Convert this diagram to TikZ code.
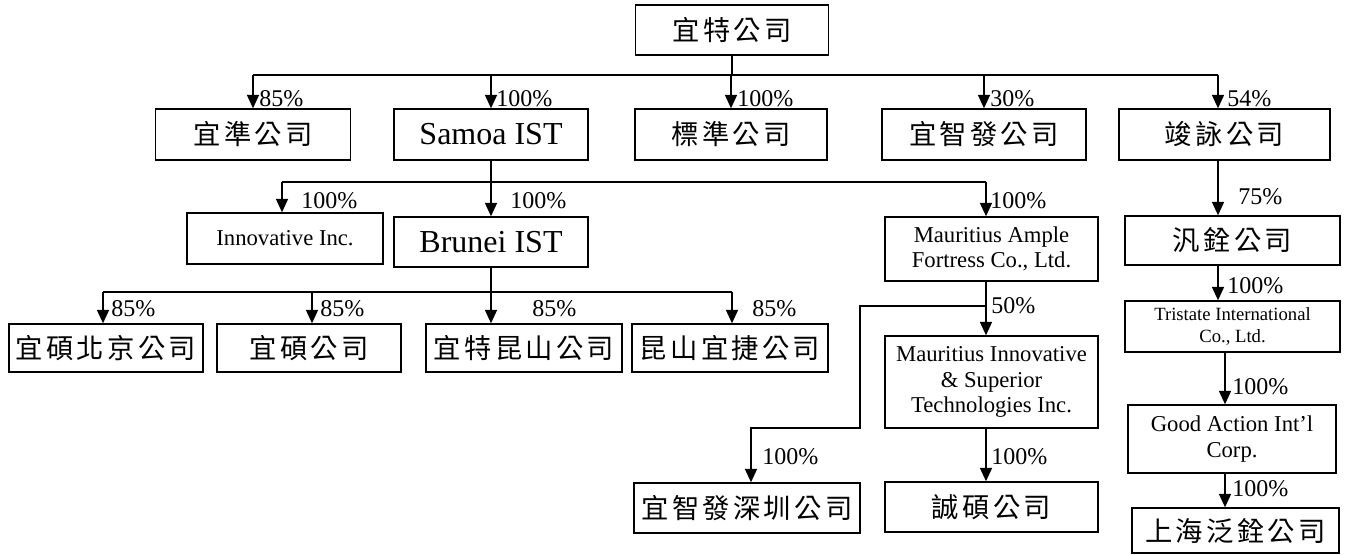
\documentclass[tikz,border=0pt]{standalone}
\usepackage{fontspec}
\setmainfont{Liberation Serif}
\newfontfamily\cjk{Noto Sans CJK TC}
\usetikzlibrary{arrows.meta,calc}
\newdimen\px \px=0.75pt
\newcommand{\kk}{\hspace{0.12em}}
\begin{document}
\begin{tikzpicture}[x=0.75pt,y=-0.75pt,
 box/.style={draw, line width=1.1pt, inner sep=0pt, align=center},
 cbox/.style={box, font=\cjk\fontsize{20.5}{24}\selectfont},
 lbox/.style={box, font=\fontsize{24}{28}\selectfont},
 sbox/.style={box, font=\fontsize{17}{19}\selectfont},
 tbox/.style={box, font=\fontsize{14}{16.5}\selectfont},
 pct/.style={anchor=west, inner sep=0pt, font=\fontsize{18}{20}\selectfont},
 arr/.style={-{Triangle[length=10pt,width=9pt]}, line width=1.1pt},
 ln/.style={line width=1.1pt}]
\useasboundingbox (0,0) rectangle (1348,555);

% level 0 / 1
\node[cbox, minimum width=193\px, minimum height=50\px] (top) at (732,30) {宜\kk 特\kk 公\kk 司};
\node[cbox, minimum width=195\px, minimum height=51\px] (zhun) at (253,134.5) {宜\kk 準\kk 公\kk 司};
\node[lbox, minimum width=194\px, minimum height=51\px] (samoa) at (491,134.5) {Samoa IST};
\node[cbox, minimum width=192\px, minimum height=51\px] (biao) at (731,134.5) {標\kk 準\kk 公\kk 司};
\node[cbox, minimum width=204\px, minimum height=51\px] (zhifa) at (984,134.5) {宜\kk 智\kk 發\kk 公\kk 司};
\node[cbox, minimum width=211\px, minimum height=51\px] (jun) at (1224.5,134.5) {竣\kk 詠\kk 公\kk 司};

% level 2
\node[sbox, minimum width=196\px, minimum height=51\px] (innov) at (285,238.5) {Innovative Inc.};
\node[lbox, minimum width=194\px, minimum height=50\px] (brunei) at (491,242) {Brunei IST};
\node[sbox, minimum width=213\px, minimum height=64\px] (maf) at (991.5,249) {Mauritius Ample\\Fortress Co., Ltd.};
\node[cbox, minimum width=215\px, minimum height=49\px] (fan) at (1232.5,240.5) {汎\kk 銓\kk 公\kk 司};

% level 3
\node[cbox, minimum width=194\px, minimum height=48\px] (bj) at (106,348) {宜\kk 碩\kk 北\kk 京\kk 公\kk 司};
\node[cbox, minimum width=184\px, minimum height=48\px] (ys) at (309,348) {宜\kk 碩\kk 公\kk 司};
\node[cbox, minimum width=196\px, minimum height=48\px] (ks) at (524,348) {宜\kk 特\kk 昆\kk 山\kk 公\kk 司};
\node[cbox, minimum width=196\px, minimum height=48\px] (ksyj) at (730,348) {昆\kk 山\kk 宜\kk 捷\kk 公\kk 司};
\node[tbox, minimum width=215\px, minimum height=51\px] (tri) at (1232.5,326.5) {Tristate International\\Co., Ltd.};

% lower
\node[sbox, minimum width=213\px, minimum height=92\px] (mis) at (991.5,382) {Mauritius Innovative\\\& Superior\\Technologies Inc.};
\node[sbox, minimum width=208\px, minimum height=68\px] (ga) at (1232,439) {Good Action Int'l\\Corp.};
\node[cbox, minimum width=226\px, minimum height=50\px] (sz) at (747,508) {宜\kk 智\kk 發\kk 深\kk 圳\kk 公\kk 司};
\node[cbox, minimum width=213\px, minimum height=50\px] (cs) at (991.5,507) {誠\kk 碩\kk 公\kk 司};
\node[cbox, minimum width=207\px, minimum height=45\px] (sh) at (1235.5,530.5) {上\kk 海\kk 泛\kk 銓\kk 公\kk 司};

% bus 1
\coordinate (b1L) at (253,75);
\coordinate (b1R) at (1218,75);
\draw[ln] (top.south) -- (top.south |- b1L);
\draw[ln] (b1L) -- (b1R);
\draw[arr] (b1L) -- (zhun.north);
\draw[arr] (samoa.north |- b1L) -- (samoa.north);
\draw[arr] (biao.north |- b1L) -- (biao.north);
\draw[arr] (zhifa.north |- b1L) -- (zhifa.north);
\draw[arr] (b1R) -- (b1R |- jun.north);

% bus 2
\coordinate (b2L) at (282,182);
\coordinate (b2R) at (986,182);
\draw[ln] (samoa.south) -- (samoa.south |- b2L);
\draw[ln] (b2L) -- (b2R);
\draw[arr] (b2L) -- (b2L |- innov.north);
\draw[arr] (brunei.north |- b2L) -- (brunei.north);
\draw[arr] (b2R) -- (b2R |- maf.north);
\draw[arr] (b1R |- jun.south) -- (b1R |- fan.north);

% bus 3
\coordinate (b3L) at (103,292);
\coordinate (b3M) at (312,292);
\coordinate (b3R) at (732,292);
\draw[ln] (brunei.south) -- (brunei.south |- b3L);
\draw[ln] (b3L) -- (b3R);
\draw[arr] (b3L) -- (b3L |- bj.north);
\draw[arr] (b3M) -- (b3M |- ys.north);
\draw[arr] (brunei.south |- b3L) -- (brunei.south |- ks.north);
\draw[arr] (b3R) -- (b3R |- ksyj.north);

% Mauritius chain
\coordinate (mj) at (986,306);
\coordinate (k1) at (860,306);
\coordinate (k2) at (860,428);
\coordinate (k3) at (751,428);
\draw[arr] (b2R |- maf.south) -- (b2R |- mis.north);
\draw[arr] (b2R |- mis.south) -- (b2R |- cs.north);
\draw[arr] (mj) -- (k1) -- (k2) -- (k3) -- (k3 |- sz.north);

% right column
\coordinate (rc) at (1225,0);
\draw[arr] (b1R |- fan.south) -- (b1R |- tri.north);
\draw[arr] (rc |- tri.south) -- (rc |- ga.north);
\draw[arr] (rc |- ga.south) -- (rc |- sh.north);

% labels
\node[pct] (p1) at (259,99) {85\%};
\node[pct] (p2) at (496,99) {100\%};
\node[pct] (p3) at (737,99) {100\%};
\node[pct] (p4) at (990,99) {30\%};
\node[pct] (p5) at (1227,99) {54\%};
\node[pct] (p6) at (301,201) {100\%};
\node[pct] (p7) at (510,201) {100\%};
\node[pct] (p8) at (990,201) {100\%};
\node[pct] (p9) at (1238,197) {75\%};
\node[pct] (p10) at (111,309) {85\%};
\node[pct] (p11) at (320,309) {85\%};
\node[pct] (p12) at (532,309) {85\%};
\node[pct] (p13) at (752,309) {85\%};
\node[pct] (p14) at (991,306) {50\%};
\node[pct] (p15) at (1227,286) {100\%};
\node[pct] (p16) at (762,457) {100\%};
\node[pct] (p17) at (991,457) {100\%};
\node[pct] (p18) at (1232,387) {100\%};
\node[pct] (p19) at (1232,489) {100\%};
\end{tikzpicture}
\end{document}
